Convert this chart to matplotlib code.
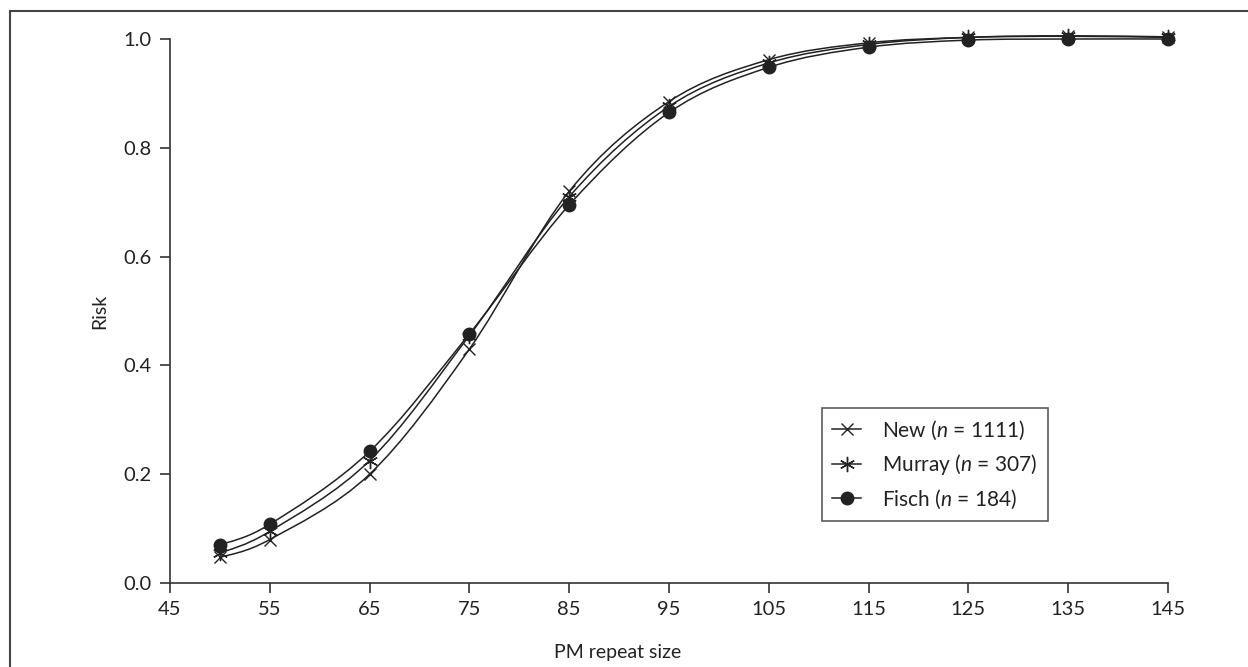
import matplotlib
matplotlib.use('Agg')
import matplotlib.pyplot as plt
import numpy as np
from matplotlib.path import Path
from matplotlib.patches import PathPatch, Rectangle

# valores
repeat = [50, 55, 65, 75, 85, 95, 105, 115, 125, 135, 145]
risco_new = [0.047, 0.080, 0.200, 0.430, 0.720, 0.885, 0.962, 0.993, 1.003, 1.005, 1.003]
risco_murray = [0.055, 0.095, 0.225, 0.455, 0.710, 0.876, 0.956, 0.990, 1.003, 1.006, 1.004]
risco_fisch = [0.070, 0.108, 0.242, 0.458, 0.695, 0.865, 0.948, 0.985, 0.998, 1.000, 1.000]

nomes = [r'New ($\mathit{n}$ = 1111)', r'Murray ($\mathit{n}$ = 307)', r'Fisch ($\mathit{n}$ = 184)']
xticks = [45, 55, 65, 75, 85, 95, 105, 115, 125, 135, 145]
yticks = [0.0, 0.2, 0.4, 0.6, 0.8, 1.0]

plt.rcParams['font.family'] = ['Lato', 'DejaVu Sans']
plt.rcParams['mathtext.fontset'] = 'custom'
plt.rcParams['mathtext.rm'] = 'Lato'
plt.rcParams['mathtext.it'] = 'Lato:italic'
cor = '#222222'


def curvaSuave(x, y):
    # linha suavizada tipo excel (bezier cubica)
    p = np.column_stack([x, y]).astype(float)
    p_ext = np.vstack([p[0], p, p[-1]])
    verts = [p[0]]
    codes = [Path.MOVETO]
    for i in range(len(p) - 1):
        a, b, c, d = p_ext[i], p_ext[i + 1], p_ext[i + 2], p_ext[i + 3]
        verts += [b + (c - a) / 6, c - (d - b) / 6, c]
        codes += [Path.CURVE4] * 3
    return Path(verts, codes)


fig = plt.figure(figsize=(12.48, 6.67), dpi=100)
ax = fig.add_axes([0.1362, 0.1259, 0.7997, 0.8156])

marcadores = ['x', (6, 2, 0), 'o']
tamanhos = [9, 11, 9]
series = [risco_new, risco_murray, risco_fisch]
for serie, m, s, nome in zip(series, marcadores, tamanhos, nomes):
    ax.add_patch(PathPatch(curvaSuave(repeat, serie), fill=False, ec=cor, lw=1.1, clip_on=False))
    ax.plot(repeat, serie, linestyle='none', marker=m, markersize=s, color=cor,
            markeredgewidth=1.0, clip_on=False)
    ax.plot([], [], color=cor, lw=1.1, marker=m, markersize=s, markeredgewidth=1.0, label=nome)

ax.set_xlim(45, 145)
ax.set_ylim(0, 1)
ax.set_xticks(xticks)
ax.set_yticks(yticks)
ax.set_yticklabels(['%.1f' % v for v in yticks])
for lado in ['top', 'right']:
    ax.spines[lado].set_visible(False)
for lado in ['left', 'bottom']:
    ax.spines[lado].set_color('#333333')
    ax.spines[lado].set_linewidth(1.2)
ax.tick_params(direction='out', length=7, width=1.2, color='#333333', labelsize=14.5,
               labelcolor=cor, pad=6)

ax.set_xlabel('PM repeat size', fontsize=14, color=cor)
ax.xaxis.set_label_coords((618 - 170) / 998, -0.113)
ax.set_ylabel('Risk', fontsize=14, color=cor)
ax.yaxis.set_label_coords(-0.062, 0.5)

leg = ax.legend(loc='upper left', bbox_to_anchor=(0.653, 0.322), fontsize=15, frameon=True,
                fancybox=False, edgecolor='#333333', handlelength=1.4, borderpad=0.5,
                labelspacing=0.5, handletextpad=1.0, borderaxespad=0)
leg.get_frame().set_linewidth(1.2)
for t in leg.get_texts():
    t.set_color(cor)

fig.patches.append(Rectangle((0.008, -0.02), 1.1, 1.0035, transform=fig.transFigure,
                             fill=False, ec='#444444', lw=1.5))

plt.savefig('out.png', dpi=100)
plt.close()
